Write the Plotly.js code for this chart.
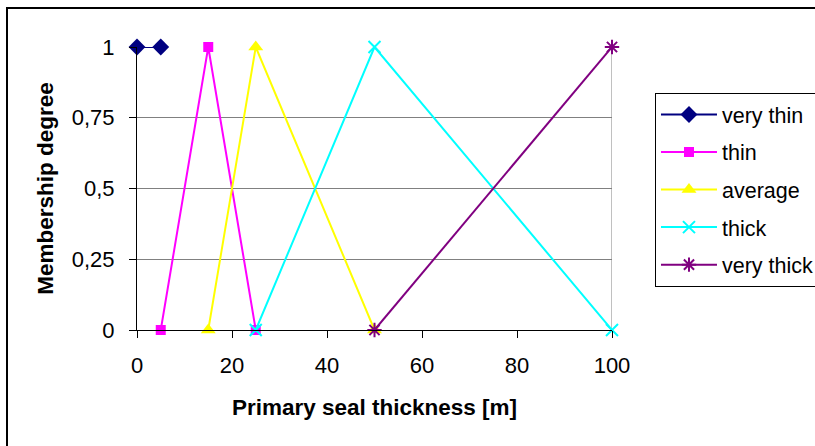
<!DOCTYPE html>
<html>
<head>
<meta charset="utf-8">
<script src="https://cdn.plot.ly/plotly-3.0.1.min.js"></script>
<style>
  html, body { margin: 0; padding: 0; background: #fff; overflow: hidden; }
  #chart { width: 815px; height: 446px; }
  #frame { position: absolute; left: 6px; top: 7px; width: 900px; height: 600px;
           border: 2px solid #000; pointer-events: none; }
</style>
</head>
<body>
<div id="chart"></div>
<div id="frame"></div>
<script>
const seriesNames = ["very thin", "thin", "average", "thick", "very thick"];
const veryThinX = [0, 5];
const veryThinY = [1, 1];
const thinX = [5, 15, 25];
const thinY = [0, 1, 0];
const averageX = [15, 25, 50];
const averageY = [0, 1, 0];
const thickX = [25, 50, 100];
const thickY = [0, 1, 0];
const veryThickX = [50, 100];
const veryThickY = [0, 1];
const yTickVals = [0, 0.25, 0.5, 0.75, 1];
const yTickText = ["0", "0,25", "0,5", "0,75", "1"];
const xTickVals = [0, 20, 40, 60, 80, 100];

const FONT = "Liberation Sans, Arial, sans-serif";

function tr(name, x, y, color, symbol, size, open, group) {
  const marker = open
    ? { symbol: symbol, size: size, color: color, line: { color: color, width: 2 } }
    : { symbol: symbol, size: size, color: color, line: { width: 0 } };
  return { type: "scatter", mode: "lines+markers", name: name, x: x, y: y,
           line: { color: color, width: 2 }, marker: marker, cliponaxis: false,
           legendgroup: group };
}

const data = [
  tr(seriesNames[0], veryThinX, veryThinY, "#000080", "diamond", 13, false, "g1"),
  tr(seriesNames[1], thinX, thinY, "#FF00FF", "square", 10, false, "g2"),
  tr(seriesNames[2], averageX, averageY, "#FFFF00", "triangle-up", 13, false, "g3"),
  tr(seriesNames[3], thickX, thickY, "#00FFFF", "x-thin-open", 12, true, "g4"),
  tr(seriesNames[4], veryThickX, veryThickY, "#800080", "asterisk-open", 12, true, "g5")
];

const layout = {
  width: 815, height: 446,
  margin: { l: 137, r: 203, t: 47, b: 116, autoexpand: false },
  paper_bgcolor: "#fff", plot_bgcolor: "#fff",
  font: { family: FONT, color: "#000", size: 22 },
  showlegend: true,
  legend: {
    x: 1.0905, xanchor: "left", y: 0.8375, yanchor: "top",
    bordercolor: "#000", borderwidth: 1, bgcolor: "#fff",
    font: { family: FONT, size: 21.5, color: "#000" },
    tracegroupgap: 6.6, itemwidth: 56
  },
  xaxis: {
    range: [0, 100], tickvals: xTickVals, ticks: "outside", ticklen: 7,
    tickcolor: "#000", showline: true, linecolor: "#000", linewidth: 1,
    showgrid: false, zeroline: false, ticklabelstandoff: 9,
    tickfont: { family: FONT, size: 22 },
    title: { text: "Primary seal thickness [m]", standoff: 21,
             font: { family: FONT, size: 22.5, weight: "bold" } }
  },
  yaxis: {
    range: [0, 1], tickvals: yTickVals, ticktext: yTickText, ticks: "outside",
    ticklen: 7, tickcolor: "#000", showline: true, linecolor: "#000", linewidth: 1,
    showgrid: true, gridcolor: "#808080", gridwidth: 1, zeroline: false,
    ticklabelstandoff: 10, tickfont: { family: FONT, size: 22 },
    title: { text: "Membership degree", standoff: 11,
             font: { family: FONT, size: 22.5, weight: "bold" } }
  },
  shapes: [
    { type: "line", xref: "x", yref: "y", x0: 100, x1: 100, y0: 0, y1: 1,
      line: { color: "#808080", width: 1 }, layer: "below" }
  ]
};

Plotly.newPlot("chart", data, layout, { displayModeBar: false, staticPlot: true });
</script>
</body>
</html>
